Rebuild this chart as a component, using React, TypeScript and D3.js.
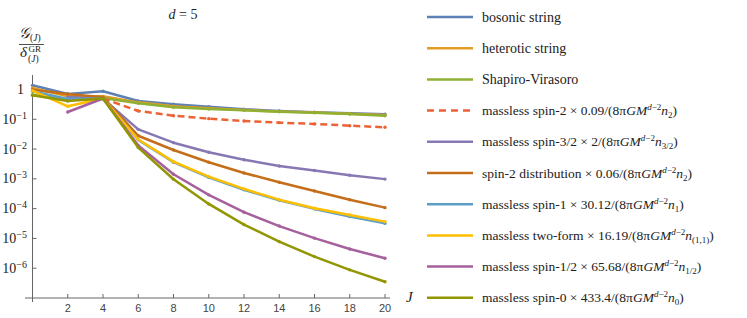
import * as d3 from "d3";

const xTicks = [2, 4, 6, 8, 10, 12, 14, 16, 18, 20];
const yTicks = [1, 1e-1, 1e-2, 1e-3, 1e-4, 1e-5, 1e-6];

// values, one per even J (starting at jStart)
const bosonic = [1.38, 0.71, 0.87, 0.41, 0.32, 0.265, 0.217, 0.19, 0.172, 0.158, 0.148];
const heterotic = [1.12, 0.59, 0.59, 0.37, 0.275, 0.234, 0.204, 0.184, 0.168, 0.153, 0.138];
const shapiro = [0.67, 0.455, 0.52, 0.344, 0.253, 0.222, 0.2, 0.18, 0.166, 0.151, 0.132];
const spin2 = [0.5, 0.19, 0.132, 0.105, 0.088, 0.077, 0.07, 0.061, 0.054];
const spin32 = [0.56, 0.49, 0.046, 0.0164, 0.0078, 0.0044, 0.0027, 0.0019, 0.00132, 0.00098];
const spin2dist = [0.98, 0.71, 0.55, 0.028, 0.0093, 0.0036, 0.00158, 7.7e-4, 3.9e-4, 2.0e-4, 1.08e-4];
const spin1 = [0.87, 0.48, 0.5, 0.0204, 0.00363, 0.00112, 4.3e-4, 1.9e-4, 9.8e-5, 5.4e-5, 3.2e-5];
const twoForm = [0.91, 0.273, 0.5, 0.021, 0.00378, 0.00119, 4.6e-4, 2.0e-4, 1.03e-4, 6.1e-5, 3.66e-5];
const spin12 = [0.176, 0.5, 0.0132, 0.00143, 2.9e-4, 7.6e-5, 2.6e-5, 1.02e-5, 4.4e-6, 2.17e-6];
const spin0 = [0.64, 0.41, 0.5, 0.0112, 9.7e-4, 1.44e-4, 2.9e-5, 7.8e-6, 2.45e-6, 8.8e-7, 3.5e-7];

type Series = {
  name: string;
  factor?: string;
  sub?: string;
  color: string;
  values: number[];
  jStart: number;
  dashed?: boolean;
};

const series: Series[] = [
  { name: "bosonic string", color: "#5E81B5", values: bosonic, jStart: 0 },
  { name: "heterotic string", color: "#E19C24", values: heterotic, jStart: 0 },
  { name: "Shapiro-Virasoro", color: "#8FB032", values: shapiro, jStart: 0 },
  { name: "massless spin-2", factor: "0.09", sub: "2", color: "#EB6235", values: spin2, jStart: 4, dashed: true },
  { name: "massless spin-3/2", factor: "2", sub: "3/2", color: "#8778B3", values: spin32, jStart: 2 },
  { name: "spin-2 distribution", factor: "0.06", sub: "2", color: "#C56E1A", values: spin2dist, jStart: 0 },
  { name: "massless spin-1", factor: "30.12", sub: "1", color: "#5D9EC7", values: spin1, jStart: 0 },
  { name: "massless two-form", factor: "16.19", sub: "(1,1)", color: "#FFBF00", values: twoForm, jStart: 0 },
  { name: "massless spin-1/2", factor: "65.68", sub: "1/2", color: "#A5609D", values: spin12, jStart: 2 },
  { name: "massless spin-0", factor: "433.4", sub: "0", color: "#929600", values: spin0, jStart: 0 },
];

const serif = { fontFamily: "'Liberation Serif', serif" };
const sans = { fontFamily: "'Liberation Sans', sans-serif" };

function Label({ s, x, y }: { s: Series; x: number; y: number }) {
  if (!s.factor) {
    return (
      <text x={x} y={y} fontSize={14} fill="#222" style={serif}>
        {s.name}
      </text>
    );
  }
  return (
    <text x={x} y={y} fontSize={13.5} fill="#222" style={serif}>
      <tspan>{`${s.name} × ${s.factor}/(8π`}</tspan>
      <tspan fontStyle="italic">GM</tspan>
      <tspan dy={-5} fontSize={9}>
        <tspan fontStyle="italic">d</tspan>−2
      </tspan>
      <tspan dy={5} fontStyle="italic">n</tspan>
      <tspan dy={3} fontSize={9}>{s.sub}</tspan>
      <tspan dy={-3}>)</tspan>
    </text>
  );
}

export default function App() {
  const width = 747;
  const height = 318;

  const x = d3.scaleLinear().domain([0, 20]).range([32.5, 385]);
  const y = d3.scaleLog().domain([1e-7, 1]).range([298, 89.5]);

  const line = d3
    .line<[number, number]>()
    .x((d) => x(d[0]))
    .y((d) => y(d[1]));

  const pts = (s: Series) =>
    s.values.map((v, i) => [s.jStart + 2 * i, v] as [number, number]);

  const legendY = (i: number) => 17 + i * 31.2;

  return (
    <svg
      width={width}
      height={height}
      style={{ position: "absolute", left: 0, top: 0, background: "#fff" }}
    >
      {/* title */}
      <text x={183} y={19} textAnchor="middle" fontSize={14} fill="#222" style={serif}>
        <tspan fontStyle="italic">d</tspan> = 5
      </text>

      {/* y label */}
      <text x={19} y={38} fontSize={15} fill="#222" style={serif}>
        <tspan fontStyle="italic">𝒢</tspan>
        <tspan fontSize={9.5} dy={3}>(</tspan>
        <tspan fontSize={9.5} fontStyle="italic">J</tspan>
        <tspan fontSize={9.5}>)</tspan>
      </text>
      <line x1={19} x2={44} y1={44.5} y2={44.5} stroke="#222" strokeWidth={0.8} />
      <text x={20} y={57} fontSize={15} fontStyle="italic" fill="#222" style={serif}>δ</text>
      <text x={28.5} y={52} fontSize={9} fill="#222" style={serif}>GR</text>
      <text x={28} y={62} fontSize={9.5} fill="#222" style={serif}>
        (<tspan fontStyle="italic">J</tspan>)
      </text>

      {/* axes */}
      <g stroke="#666" strokeWidth={1}>
        <line x1={25} x2={390} y1={y(1e-7)} y2={y(1e-7)} />
        <line x1={x(0)} x2={x(0)} y1={75} y2={302} />
        {xTicks.map((t) => (
          <line key={t} x1={x(t)} x2={x(t)} y1={y(1e-7)} y2={y(1e-7) - 4} />
        ))}
        {yTicks.map((t) => (
          <line key={t} x1={x(0)} x2={x(0) + 4} y1={y(t)} y2={y(t)} />
        ))}
      </g>
      {xTicks.map((t) => (
        <text key={t} x={x(t)} y={312} textAnchor="middle" style={sans} fontSize={11} fill="#444">
          {t}
        </text>
      ))}
      {yTicks.map((t, i) =>
        i === 0 ? (
          <text key={t} x={24} y={y(t) + 4.5} textAnchor="end" fontSize={14} fill="#222" style={serif}>
            1
          </text>
        ) : (
          <text key={t} x={27} y={y(t) + 4.5} textAnchor="end" fontSize={14} fill="#222" style={serif}>
            10
            <tspan dy={-5} fontSize={10}>{`−${i}`}</tspan>
          </text>
        )
      )}
      <text x={406} y={302} fontStyle="italic" fontSize={15} fill="#222" style={serif}>
        J
      </text>

      {/* series */}
      {series.map((s) => (
        <g key={s.name}>
          <path
            d={line(pts(s)) ?? ""}
            fill="none"
            stroke={s.color}
            strokeWidth={2.5}
            strokeLinejoin="round"
            strokeDasharray={s.dashed ? "7 4" : undefined}
          />
          {pts(s).map((p, i) => (
            <circle key={i} cx={x(p[0])} cy={y(p[1])} r={1.7} fill={s.color} />
          ))}
        </g>
      ))}

      {/* legend */}
      {series.map((s, i) => (
        <g key={s.name}>
          <line
            x1={427}
            x2={473}
            y1={legendY(i)}
            y2={legendY(i)}
            stroke={s.color}
            strokeWidth={2.5}
            strokeDasharray={s.dashed ? "7 5" : undefined}
          />
          <Label s={s} x={482} y={legendY(i) + 4.5} />
        </g>
      ))}
    </svg>
  );
}
